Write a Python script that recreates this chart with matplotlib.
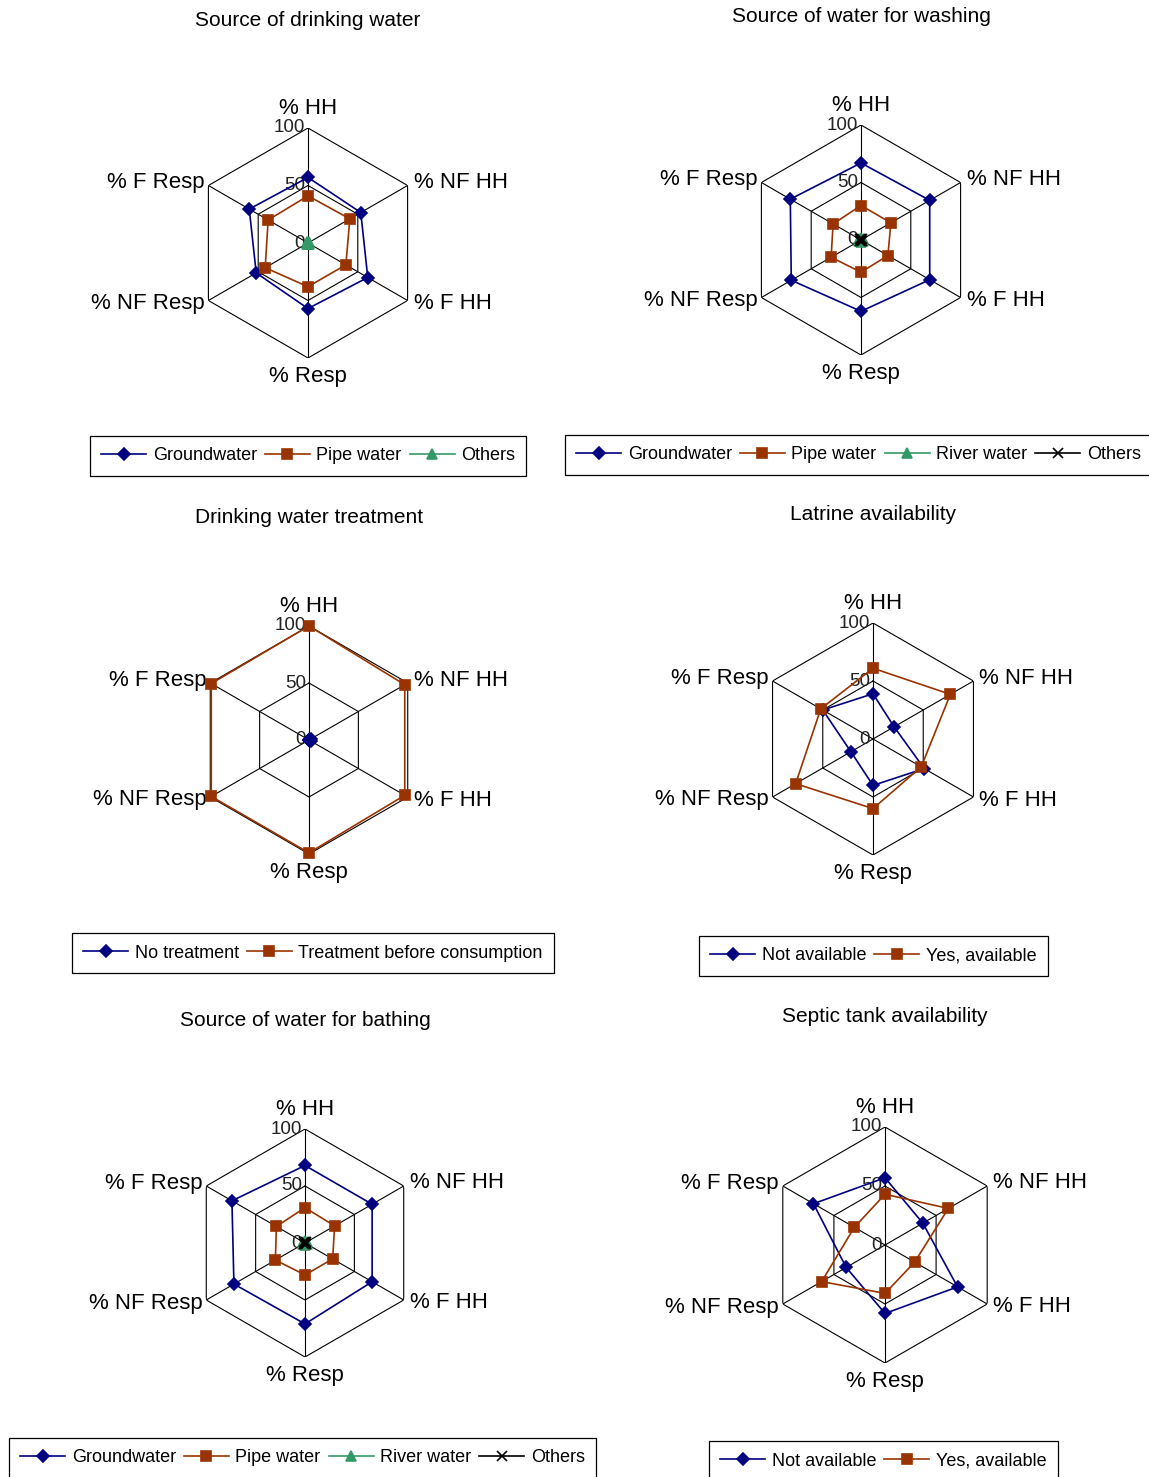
import numpy as np
import matplotlib
matplotlib.use("Agg")
import matplotlib.pyplot as plt
from matplotlib.lines import Line2D

# ---- data -------------------------------------------------------------
axes_labels = ["% HH", "% NF HH", "% F HH", "% Resp", "% NF Resp", "% F Resp"]
ring_ticks = [0, 50, 100]

# Source of drinking water
drink_groundwater = [57, 53, 60, 57, 52, 59]
drink_pipe = [41, 42, 38, 38, 43, 40]
drink_others = [1, 1, 1, 1, 1, 1]

# Source of water for washing
wash_groundwater = [67, 69, 69, 62, 70, 71]
wash_pipe = [30, 30, 27, 28, 30, 28]
wash_river = [2, 2, 2, 2, 2, 2]
wash_others = [1, 1, 1, 1, 1, 1]

# Drinking water treatment
treat_none = [0, 2, 2, 0, 0, 0]
treat_before = [100, 97, 97, 99, 99, 99]

# Latrine availability
latrine_no = [39, 21, 51, 40, 22, 50]
latrine_yes = [61, 77, 48, 60, 77, 52]

# Source of water for bathing
bath_groundwater = [68, 68, 68, 71, 72, 74]
bath_pipe = [31, 30, 28, 28, 30, 29]
bath_river = [2, 2, 2, 2, 2, 2]
bath_others = [1, 1, 1, 1, 1, 1]

# Septic tank availability
septic_no = [57, 37, 71, 58, 38, 70]
septic_yes = [43, 62, 29, 41, 62, 30]

# ---- styles -----------------------------------------------------------
NAVY = "#000080"
BROWN = "#993300"
GREEN = "#339966"
BLACK = "#000000"

DIAMOND = dict(color=NAVY, marker="D", ms=6.5)
SQUARE = dict(color=BROWN, marker="s", ms=6.5)
TRIANGLE = dict(color=GREEN, marker="^", ms=7.5)
CROSS = dict(color=BLACK, marker="x", ms=7)

FONT = ["Liberation Sans", "DejaVu Sans"]

W, H = 1149, 1477
fig = plt.figure(figsize=(W / 100, H / 100), dpi=100)

angles = np.linspace(0, 2 * np.pi, len(axes_labels), endpoint=False)
closed = np.append(angles, angles[0])


def radar(cx, cy, R, title, title_y, series, leg_xy):
    ax = fig.add_axes([(cx - R) / W, 1 - (cy + R) / H, 2 * R / W, 2 * R / H],
                      projection="polar")
    ax.set_theta_zero_location("N")
    ax.set_theta_direction(-1)
    ax.set_ylim(0, 100)
    ax.grid(False)
    ax.set_xticks([])
    ax.set_yticks([])
    ax.spines["polar"].set_visible(False)
    ax.patch.set_visible(False)

    # hexagonal rings and spokes
    for rv in (50, 100):
        ax.plot(closed, [rv] * len(closed), color="k", lw=0.8, zorder=1)
    for a in angles:
        ax.plot([a, a], [0, 100], color="k", lw=0.8, zorder=1)

    # ring values along the top spoke
    for t in ring_ticks:
        ax.annotate(str(t), xy=(0, t), xytext=(-3, 0), textcoords="offset pixels",
                    ha="right", va="center", fontsize=13.5, family=FONT,
                    color="#222222", zorder=2, annotation_clip=False)

    # category labels around the outside
    offs = [((0, 14), "center", "baseline"),
            ((6, 3), "left", "center"),
            ((6, -3), "left", "center"),
            ((0, -8), "center", "top"),
            ((-4, -3), "right", "center"),
            ((-4, 3), "right", "center")]
    for a, lab, (off, ha, va) in zip(angles, axes_labels, offs):
        ax.annotate(lab, xy=(a, 100), xytext=off, textcoords="offset pixels",
                    ha=ha, va=va, fontsize=16, family=FONT,
                    annotation_clip=False)

    handles = []
    for name, vals, st in series:
        v = list(vals) + [vals[0]]
        ax.plot(closed, v, color=st["color"], lw=1.2, zorder=3, clip_on=False)
        ax.plot(angles, vals, ls="none", marker=st["marker"], ms=st["ms"],
                color=st["color"], mec=st["color"], mew=1.2, zorder=4,
                clip_on=False)
        handles.append(Line2D([], [], color=st["color"], lw=1.2,
                              marker=st["marker"], ms=st["ms"],
                              mec=st["color"], mew=1.2, label=name))

    fig.text(cx / W, 1 - title_y / H, title, ha="center", va="center",
             fontsize=15, family=FONT)

    leg = fig.legend(handles=handles, loc="center left",
                     bbox_to_anchor=(leg_xy[0] / W, 1 - leg_xy[1] / H),
                     ncol=len(handles), frameon=True, fancybox=False,
                     edgecolor="black", framealpha=1,
                     prop={"family": FONT, "size": 13},
                     handlelength=2.5, handletextpad=0.35, columnspacing=0.45,
                     borderpad=0.62, borderaxespad=0)
    leg.get_frame().set_linewidth(0.9)
    return ax


radar(308, 243, 115, "Source of drinking water", 20,
      [("Groundwater", drink_groundwater, DIAMOND),
       ("Pipe water", drink_pipe, SQUARE),
       ("Others", drink_others, TRIANGLE)], (90, 456))

radar(861, 240, 115, "Source of water for washing", 16,
      [("Groundwater", wash_groundwater, DIAMOND),
       ("Pipe water", wash_pipe, SQUARE),
       ("River water", wash_river, TRIANGLE),
       ("Others", wash_others, CROSS)], (565, 455))

radar(309, 740, 114, "Drinking water treatment", 517,
      [("No treatment", treat_none, DIAMOND),
       ("Treatment before consumption", treat_before, SQUARE)], (72, 953))

radar(873, 739, 116, "Latrine availability", 514,
      [("Not available", latrine_no, DIAMOND),
       ("Yes, available", latrine_yes, SQUARE)], (699, 956))

radar(305, 1243, 114, "Source of water for bathing", 1020,
      [("Groundwater", bath_groundwater, DIAMOND),
       ("Pipe water", bath_pipe, SQUARE),
       ("River water", bath_river, TRIANGLE),
       ("Others", bath_others, CROSS)], (9, 1458))

radar(885, 1245, 118, "Septic tank availability", 1017,
      [("Not available", septic_no, DIAMOND),
       ("Yes, available", septic_yes, SQUARE)], (709, 1461))

fig.savefig("out.png", dpi=100, facecolor="white")
